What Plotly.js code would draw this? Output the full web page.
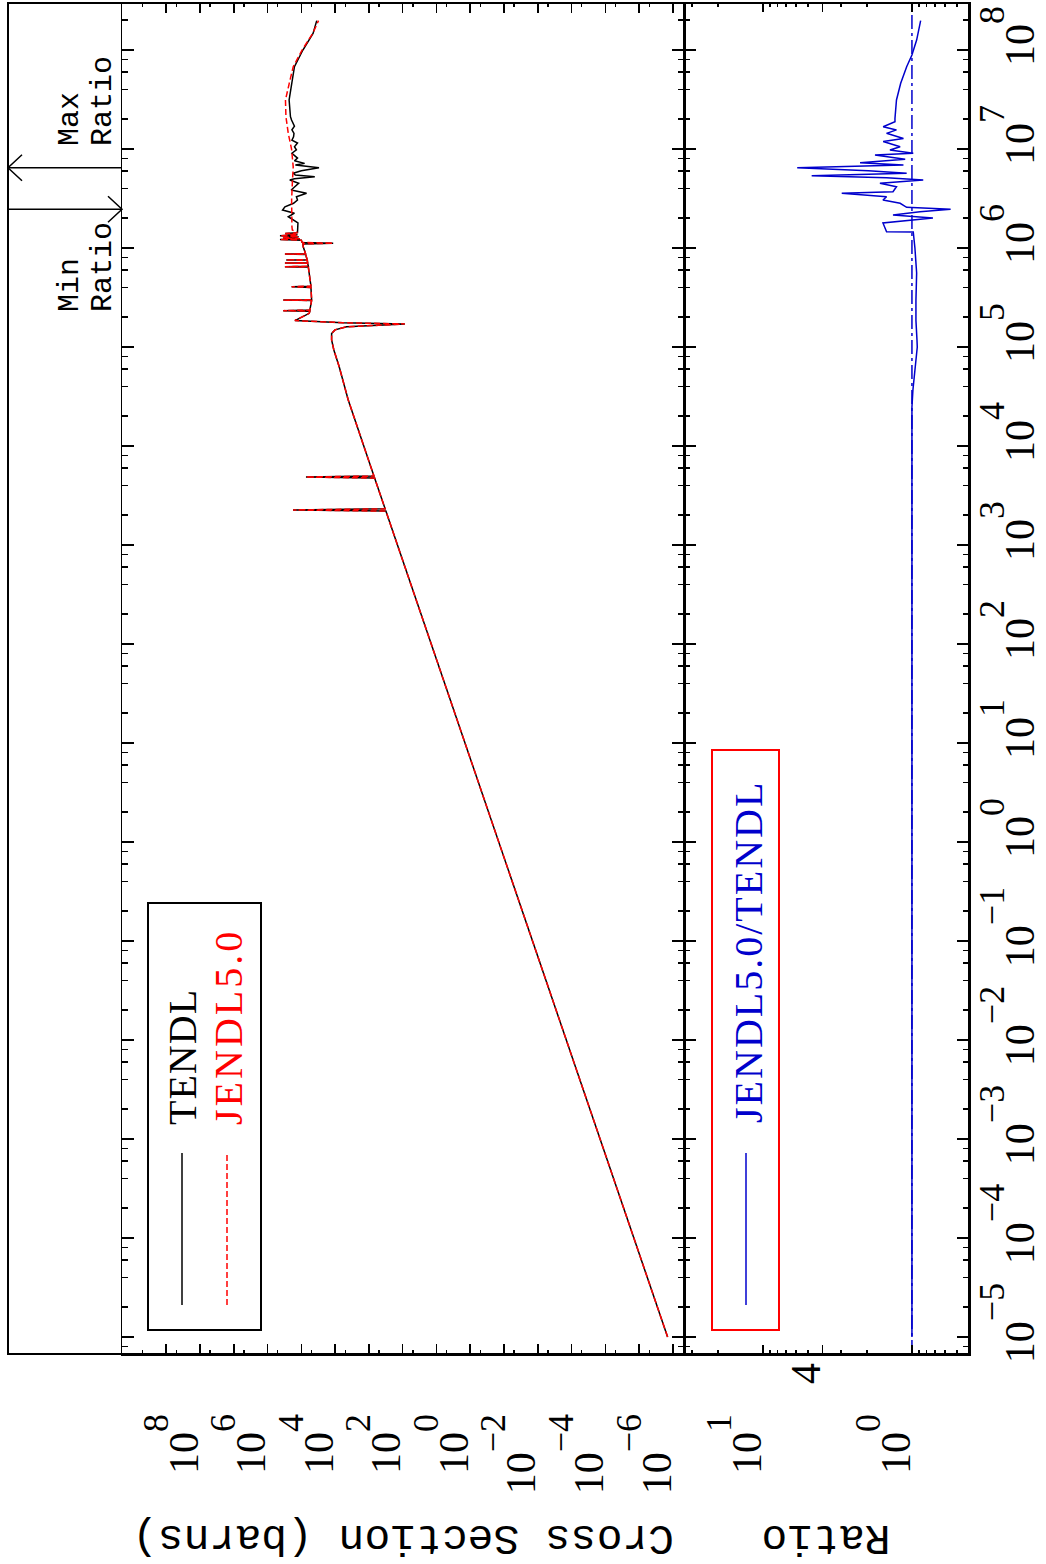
<!DOCTYPE html>
<html><head><meta charset="utf-8">
<script src="https://cdn.plot.ly/plotly-3.0.1.min.js"></script>
<style>
html,body{margin:0;padding:0;width:1046px;height:1564px;overflow:hidden;background:#fff;}
#rot{position:absolute;left:0;top:0;width:1564px;height:1046px;transform-origin:0 0;transform:translateY(1564px) rotate(-90deg);}
#chart{width:1564px;height:1046px;}
</style></head><body>
<div id="rot"><div id="chart"></div></div>
<script>
// ---------------- data ----------------
const seriesNames = ['TENDL', 'JENDL5.0'];
const ratioName = 'JENDL5.0/TENDL';
const xTitle = 'Cross Section (barns)';
const ratioTitle = 'Ratio';
const maxLabel = ['Max', 'Ratio'];
const minLabel = ['Min', 'Ratio'];

// energy (eV) and cross section (barns) common to both evaluations
const sharedEnergy = [1e-5, 1e-4, 1e-3, 1e-2, 1e-1, 1, 10, 100, 1000, 2200, 2260, 2320, 4750, 4860, 4970,
  1e4, 2.92e4, 6.32e4, 9.33e4, 1.18e5, 1.37e5, 1.49e5, 1.60e5, 1.71e5, 1.76e5, 1.85e5, 1.95e5, 2.19e5,
  2.30e5, 2.33e5, 2.36e5, 2.95e5, 2.98e5, 3.01e5, 4.00e5, 4.06e5, 4.12e5, 6.40e5, 6.47e5, 6.54e5,
  7.00e5, 7.05e5, 7.10e5, 7.52e5, 7.57e5, 7.62e5, 8.62e5, 8.69e5, 8.76e5, 1.03e6, 1.10e6, 1.12e6, 1.14e6,
  1.20e6, 1.22e6, 1.24e6, 1.27e6, 1.30e6, 1.33e6, 1.36e6, 1.40e6, 1.43e6];
const sharedXS = [1.43e-6, 1.43e-5, 1.43e-4, 1.43e-3, 1.43e-2, 0.143, 1.43, 14.3, 143, 314, 1.77e5, 331, 677, 7.3e4, 709,
  1420, 4090, 7570, 1.09e4, 1.27e4, 1.27e4, 1.01e4, 4570, 86, 5880, 1.55e5, 1.10e5, 5.84e4,
  5.6e4, 3.43e5, 5.6e4, 4.96e4, 3.43e5, 4.96e4, 5.2e4, 1.94e5, 5.2e4, 6.2e4, 3.06e5, 6.2e4,
  6.5e4, 3.06e5, 6.5e4, 6.7e4, 2.8e5, 6.7e4, 7.5e4, 3.06e5, 7.5e4, 8.79e4, 9.0e4, 1.14e4, 9.5e4,
  1.0e5, 4.29e5, 1.1e5, 3.5e5, 1.2e5, 4.29e5, 1.3e5, 3.0e5, 1.3e5];

// TENDL above 1.45 MeV
const tendlHighEnergy = [1.52e6, 1.64e6, 1.79e6, 2.07e6, 2.25e6, 2.42e6, 2.61e6, 2.83e6, 3.05e6, 3.30e6, 3.57e6,
  3.85e6, 4.16e6, 4.51e6, 4.86e6, 5.0e6, 5.25e6, 5.45e6, 5.69e6, 6.04e6, 6.47e6, 6.9e6, 7.16e6, 7.6e6, 8.1e6,
  9.06e6, 9.8e6, 1.055e7, 1.15e7, 1.23e7, 1.33e7, 1.44e7, 1.56e7, 1.7e7, 1.96e7, 2.12e7, 3.13e7, 4.61e7,
  6.78e7, 1.0e8, 1.47e8, 1.98e8];
const tendlHighXS = [1.3e5, 1.26e5, 1.26e5, 2.44e5, 1.6e5, 3.6e5, 3.06e5, 1.7e5, 1.3e5, 1.4e5, 7.0e4,
  2.0e5, 1.55e5, 1.2e5, 2.2e5, 1.6e5, 4.0e4, 1.5e5, 1.74e5, 1.0e5, 3.0e4, 1.5e5, 8.0e4, 1.6e5, 1.3e5,
  1.9e5, 1.4e5, 1.6e5, 1.3e5, 1.9e5, 1.7e5, 1.65e5, 1.9e5, 1.6e5, 1.95e5, 2.1e5, 2.3e5, 1.95e5,
  1.6e5, 9.0e4, 4.5e4, 3.5e4];

// JENDL-5.0 above 1.45 MeV (smooth)
const jendlHighEnergy = [1.52e6, 1.64e6, 2.0e6, 3.05e6, 4.5e6, 6.6e6, 1.0e7, 1.44e7, 2.12e7, 3.13e7, 4.61e7,
  6.78e7, 1.0e8, 1.47e8, 1.98e8];
const jendlHighXS = [1.85e5, 1.9e5, 1.92e5, 1.94e5, 1.85e5, 1.74e5, 1.95e5, 2.44e5, 2.86e5, 2.95e5, 2.28e5,
  1.74e5, 9.5e4, 4.6e4, 3.1e4];

// ratio JENDL5.0/TENDL
const ratioEnergy = [1e-5, 1e4, 2.48e4, 3.68e4, 1.0e5, 1.18e5, 1.85e5, 2.98e5, 5.59e5, 1.0e6, 1.35e6, 1.45e6,
  1.46e6, 1.79e6, 2.01e6, 2.15e6, 2.33e6, 2.46e6, 2.58e6, 2.83e6, 3.05e6, 3.30e6, 3.57e6, 3.71e6, 4.16e6,
  4.51e6, 4.86e6, 5.13e6, 5.37e6, 5.69e6, 6.04e6, 6.47e6, 6.89e6, 7.28e6, 7.87e6, 8.7e6, 9.06e6, 9.77e6,
  1.055e7, 1.19e7, 1.28e7, 1.44e7, 1.56e7, 1.68e7, 1.89e7, 2.04e7, 3.13e7, 4.61e7, 6.78e7, 8.9e7, 1.26e8, 1.98e8];
const ratioValues = [1.0, 1.0, 1.0, 0.985, 0.921, 0.925, 0.94, 0.94, 0.93, 0.955, 0.98, 0.98,
  1.48, 1.565, 0.723, 1.34, 0.884, 0.55, 1.085, 1.20, 1.565, 1.48, 2.96, 1.34, 1.27,
  1.64, 0.84, 1.48, 4.71, 1.085, 1.96, 5.89, 1.14, 2.23, 1.11, 1.77, 0.98, 1.405,
  1.20, 1.56, 1.14, 1.48, 1.27, 1.56, 1.30, 1.30, 1.27, 1.19, 1.085, 1.0, 0.93, 0.874];
const ratioReference = 1;

// tick labels
const energyTickVals = [1e-5, 1e-4, 1e-3, 1e-2, 1e-1, 1, 10, 100, 1e3, 1e4, 1e5, 1e6, 1e7, 1e8];
const energyTickLabels = ['10<sup>\u22125</sup>', '10<sup>\u22124</sup>', '10<sup>\u22123</sup>', '10<sup>\u22122</sup>',
  '10<sup>\u22121</sup>', '10<sup>0</sup>', '10<sup>1</sup>', '10<sup>2</sup>', '10<sup>3</sup>', '10<sup>4</sup>',
  '10<sup>5</sup>', '10<sup>6</sup>', '10<sup>7</sup>', '10<sup>8</sup>'];
const xsTickVals = [1e-6, 1e-4, 1e-2, 1, 1e2, 1e4, 1e6, 1e8];
const xsTickLabels = ['10<sup>\u22126</sup>', '10<sup>\u22124</sup>', '10<sup>\u22122</sup>', '10<sup>0</sup>',
  '10<sup>2</sup>', '10<sup>4</sup>', '10<sup>6</sup>', '10<sup>8</sup>'];
const xsUnlabeledTickVals = [1e-7, 1e-5, 1e-3, 1e-1, 10, 1e3, 1e5, 1e7, 1e9];
const ratioTickVals = [1, 10];
const ratioTickLabels = ['10<sup>0</sup>', '10<sup>1</sup>'];
const ratioExtraTickVals = [4];
const ratioExtraTickLabels = ['4'];

// ---------------- layout geometry (landscape page, rotated by CSS) ----------------
const PW = 1564, PH = 1046, ML = 210, MR = 3, MT = 8, MB = 77;
const plotW = PW - ML - MR, plotH = PH - MT - MB;
const vP = v => (PH - MB - v) / plotH;   // pixel row -> paper y
const uP = u => (u - ML) / plotW;         // pixel col -> paper x
const dRatio = [0, vP(684)], dXS = [vP(684), vP(122)], dStrip = [vP(122), 1];
const xRange = [-5.172, 8.475];
const xPaper = e => (Math.log10(e) - xRange[0]) / (xRange[1] - xRange[0]);
// exponent raised to the top of the mantissa, drawn nearly full size
const supStyle = s => s.replace(/<sup>(.*?)<\/sup>/, '<sup><sup><span style="font-size:36px">$1</span></sup></sup>');
const spaced = (s, px) => '<span style="letter-spacing:' + px + 'px">' + s + '</span>';

const serif = 'Liberation Serif, Times New Roman, serif';
const mono = 'Liberation Mono, Courier New, monospace';
const tickFont = {family: serif, size: 42, color: 'black'};

// minor tick positions
const eMinor = [];
for (let n = -6; n <= 8; n++) for (const m of [2, 4, 6, 8]) eMinor.push(m * Math.pow(10, n));
const xsMinor = [];
for (let n = -7; n <= 10; n++) xsMinor.push(5 * Math.pow(10, n));
const ratioMinor = [0.5, 0.6, 0.7, 0.8, 0.9, 2, 3, 5, 6, 7, 8, 9, 20, 30];

const axCommon = {showline: true, linecolor: 'black', linewidth: 1.5, mirror: 'ticks', ticks: 'inside',
  tickcolor: 'black', tickwidth: 1.5, showgrid: false, zeroline: false, automargin: false, fixedrange: true};
const overlayTicks = {showline: false, mirror: 'ticks', ticks: 'inside', tickcolor: 'black', tickwidth: 1.5,
  showgrid: false, zeroline: false, automargin: false, fixedrange: true};

// ---------------- traces ----------------
const tendlE = sharedEnergy.concat(tendlHighEnergy), tendlY = sharedXS.concat(tendlHighXS);
const jendlE = sharedEnergy.concat(jendlHighEnergy), jendlY = sharedXS.concat(jendlHighXS);
let iMax = 0, iMin = 0;
ratioValues.forEach((r, i) => { if (r > ratioValues[iMax]) iMax = i; if (r < ratioValues[iMin]) iMin = i; });
const eMax = ratioEnergy[iMax], eMin = ratioEnergy[iMin];
const blue = '#0000CC';

const traces = [
  {x: tendlE, y: tendlY, xaxis: 'x2', yaxis: 'y2', mode: 'lines', name: seriesNames[0], line: {color: 'black', width: 1.5}},
  {x: jendlE, y: jendlY, xaxis: 'x2', yaxis: 'y2', mode: 'lines', name: seriesNames[1], line: {color: 'red', width: 1.5, dash: '6px,3px'}},
  {x: [], y: [], xaxis: 'x2', yaxis: 'y5', mode: 'lines', name: 'odd decades', hoverinfo: 'skip'},
  {x: ratioEnergy, y: ratioValues, xaxis: 'x', yaxis: 'y', mode: 'lines', name: ratioName, line: {color: blue, width: 1.5}},
  {x: [Math.pow(10, xRange[0]), Math.pow(10, xRange[1])], y: [ratioReference, ratioReference], xaxis: 'x', yaxis: 'y4',
    mode: 'lines', name: 'unity', line: {color: blue, width: 1.5, dash: '14px,4px,3px,4px'}},
  {x: [eMax, eMax], y: [0, 1], xaxis: 'x', yaxis: 'y3', mode: 'lines', name: 'max', line: {color: 'black', width: 1.5}},
  {x: [eMin, eMin], y: [0, 1], xaxis: 'x', yaxis: 'y3', mode: 'lines', name: 'min', line: {color: 'black', width: 1.5}}
];

// ---------------- annotations ----------------
const ann = [];
ann.push({xref: 'paper', yref: 'paper', x: uP(27), y: (dXS[0] + dXS[1]) / 2, text: xTitle, textangle: -90,
  showarrow: false, xanchor: 'center', yanchor: 'middle', font: {family: mono, size: 43, color: 'black'}});
ann.push({xref: 'paper', yref: 'paper', x: uP(27), y: (dRatio[0] + dRatio[1]) / 2, text: ratioTitle, textangle: -90,
  showarrow: false, xanchor: 'center', yanchor: 'middle', font: {family: mono, size: 43, color: 'black'}});
// legend texts
const legFont = c => ({family: serif, size: 40, color: c});
ann.push({xref: 'paper', yref: 'paper', x: uP(437), y: vP(182.5), text: spaced(seriesNames[0], 1), showarrow: false, xanchor: 'left', yanchor: 'middle', font: legFont('black')});
ann.push({xref: 'paper', yref: 'paper', x: uP(437), y: vP(229), text: spaced(seriesNames[1], 3), showarrow: false, xanchor: 'left', yanchor: 'middle', font: legFont('red')});
ann.push({xref: 'paper', yref: 'paper', x: uP(439), y: vP(748), text: spaced(ratioName, 2), showarrow: false, xanchor: 'left', yanchor: 'middle', font: legFont(blue)});
// min / max ratio texts
const mmFont = {family: mono, size: 30, color: 'black'};
const y3 = v => (122 - v) / 114;
ann.push({xref: 'x', yref: 'y3', x: Math.log10(eMax), y: y3(70), xshift: 20, text: maxLabel[0], showarrow: false, xanchor: 'left', yanchor: 'middle', font: mmFont});
ann.push({xref: 'x', yref: 'y3', x: Math.log10(eMax), y: y3(103), xshift: 20, text: maxLabel[1], showarrow: false, xanchor: 'left', yanchor: 'middle', font: mmFont});
ann.push({xref: 'x', yref: 'y3', x: Math.log10(eMin), y: y3(70), xshift: -105, text: minLabel[0], showarrow: false, xanchor: 'left', yanchor: 'middle', font: mmFont});
ann.push({xref: 'x', yref: 'y3', x: Math.log10(eMin), y: y3(103), xshift: -105, text: minLabel[1], showarrow: false, xanchor: 'left', yanchor: 'middle', font: mmFont});

// ---------------- shapes ----------------
const shapes = [
  {type: 'rect', xref: 'paper', yref: 'paper', x0: 0, x1: 1, y0: 0, y1: 1, line: {color: 'black', width: 2}},
  {type: 'rect', xref: 'paper', yref: 'paper', x0: uP(234), x1: uP(661), y0: vP(261), y1: vP(148), line: {color: 'black', width: 2}},
  {type: 'rect', xref: 'paper', yref: 'paper', x0: uP(234), x1: uP(814), y0: vP(779), y1: vP(712), line: {color: 'red', width: 2}},
  {type: 'line', xref: 'paper', yref: 'paper', x0: uP(259), x1: uP(411), y0: vP(182), y1: vP(182), line: {color: 'black', width: 1.5}},
  {type: 'line', xref: 'paper', yref: 'paper', x0: uP(259), x1: uP(411), y0: vP(227), y1: vP(227), line: {color: 'red', width: 1.5, dash: '6px,3px'}},
  {type: 'line', xref: 'paper', yref: 'paper', x0: uP(259), x1: uP(411), y0: vP(746), y1: vP(746), line: {color: blue, width: 1.5}},
  // arrow heads of the max / min ratio markers
  {type: 'path', xref: 'paper', yref: 'paper', xsizemode: 'pixel', ysizemode: 'pixel', xanchor: xPaper(eMax), yanchor: 1,
    path: 'M-13,-14L0,0L13,-14', line: {color: 'black', width: 1.5}},
  {type: 'path', xref: 'paper', yref: 'paper', xsizemode: 'pixel', ysizemode: 'pixel', xanchor: xPaper(eMin), yanchor: dStrip[0],
    path: 'M-13,14L0,0L13,14', line: {color: 'black', width: 1.5}}
];

const layout = {
  width: PW, height: PH, margin: {l: ML, r: MR, t: MT, b: MB},
  paper_bgcolor: 'white', plot_bgcolor: 'white', showlegend: false,
  xaxis: Object.assign({}, axCommon, {type: 'log', range: xRange, domain: [0, 1], anchor: 'y', ticklen: 12,
    tickmode: 'array', tickvals: energyTickVals, ticktext: energyTickLabels.map(supStyle), tickfont: tickFont,
    ticklabelstandoff: 13, ticklabelshift: 14,
    minor: {tickmode: 'array', tickvals: eMinor, ticks: 'inside', ticklen: 6, tickwidth: 1.5, tickcolor: 'black', showgrid: false}}),
  xaxis2: Object.assign({}, axCommon, {type: 'log', range: xRange, domain: [0, 1], anchor: 'y2', ticklen: 12,
    tickmode: 'array', tickvals: energyTickVals, showticklabels: false,
    minor: {tickmode: 'array', tickvals: eMinor, ticks: 'inside', ticklen: 6, tickwidth: 1.5, tickcolor: 'black', showgrid: false}}),
  yaxis: Object.assign({}, axCommon, {type: 'log', range: [-0.383, 1.530], domain: dRatio, anchor: 'x', ticklen: 9,
    tickmode: 'array', tickvals: ratioTickVals, ticktext: ratioTickLabels.map(supStyle), tickfont: tickFont,
    ticklabelstandoff: 50, ticklabelshift: -17,
    minor: {tickmode: 'array', tickvals: ratioMinor, ticks: 'inside', ticklen: 4, tickwidth: 1.5, tickcolor: 'black', showgrid: false}}),
  yaxis4: Object.assign({}, overlayTicks, {type: 'log', range: [-0.383, 1.530], domain: dRatio, anchor: 'x', overlaying: 'y', side: 'left',
    ticklen: 9, tickmode: 'array', tickvals: ratioExtraTickVals, ticktext: ratioExtraTickLabels, tickfont: tickFont,
    ticklabelstandoff: 8, ticklabelshift: -17}),
  yaxis2: Object.assign({}, axCommon, {type: 'log', range: [-6.33, 10.31], domain: dXS, anchor: 'x2', ticklen: 10,
    tickmode: 'array', tickvals: xsTickVals, ticktext: xsTickLabels.map(supStyle), tickfont: tickFont,
    ticklabelstandoff: 50, ticklabelshift: -17,
    minor: {tickmode: 'array', tickvals: xsMinor, ticks: 'inside', ticklen: 4, tickwidth: 1.5, tickcolor: 'black', showgrid: false}}),
  yaxis5: Object.assign({}, overlayTicks, {type: 'log', range: [-6.33, 10.31], domain: dXS, anchor: 'x2', overlaying: 'y2', side: 'left',
    ticklen: 10, tickmode: 'array', tickvals: xsUnlabeledTickVals, showticklabels: false}),
  yaxis3: {range: [0, 1], domain: dStrip, anchor: 'x', visible: false, fixedrange: true},
  annotations: ann,
  shapes: shapes
};

Plotly.newPlot('chart', traces, layout, {staticPlot: true, displayModeBar: false});
</script></body></html>
